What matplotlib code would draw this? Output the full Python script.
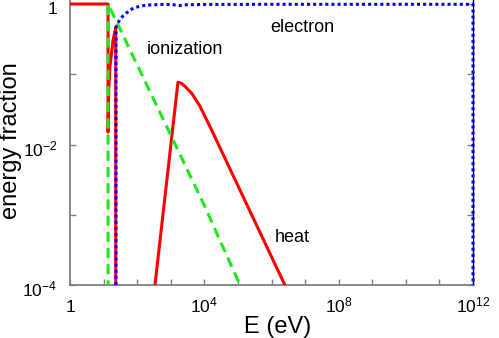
import matplotlib
matplotlib.use("Agg")
import numpy as np
import matplotlib.pyplot as plt
from matplotlib.ticker import FixedLocator, NullFormatter
from matplotlib.transforms import ScaledTranslation

plt.rcParams['font.family'] = ['Liberation Sans', 'DejaVu Sans']
plt.rcParams['mathtext.fontset'] = 'custom'
plt.rcParams['mathtext.rm'] = 'Liberation Sans'
plt.rcParams['mathtext.it'] = 'Liberation Sans:italic'
plt.rcParams['mathtext.bf'] = 'Liberation Sans:bold'

# ---- data ----
heat_E = [1, 13.6, 13.6, 14.2, 15.5, 19.0, 23.0, 23.0, None,
          339, 1637, 2100, 2650, 4280, 7400, 14700, 2.5e6]
heat_f = [1.0, 1.0, 0.015, 0.06, 0.13, 0.30, 0.47, 1e-7, None,
          1e-4, 0.077, 0.074, 0.0674, 0.053, 0.035, 0.018, 1e-4]

ion_E = [13.6, 13.6, 1e2, 1e3, 1e4, 1.15e5, 1e6]
ion_f = [1e-7, 1.0, 0.136, 0.0136, 0.00136, 1e-4, 1.36e-5]

elec_E = [23.4, 23.4, 30.8, 43, 70, 121, 240, 550, 1100, 1870, 3000, 1e4, 1e6, 1e9, 1e12, 1e12]
elec_f = [1e-4, 0.47, 0.61, 0.72, 0.85, 0.935, 0.97, 0.985, 0.98, 0.95, 0.975, 0.985, 0.99, 0.99, 0.99, 1e-4]

xticks = [1, 1e4, 1e8, 1e12]
xticklabels = ['$1$', '$10^{4}$', '$10^{8}$', '$10^{12}$']
xminor = [1e1, 1e2, 1e3, 1e5, 1e6, 1e7, 1e9, 1e10, 1e11]
yticks = [1e-4, 1e-2, 1]
yticklabels = ['$10^{-4}$', '$10^{-2}$', '$1$']
yminor = [1e-3, 1e-1]

fig = plt.figure(figsize=(4.99, 3.38), dpi=100)
ax = fig.add_axes([70/499, (338-285)/338, 403/499, 285/338])

def seg(xs, ys):
    return ([np.nan if v is None else v for v in xs], [np.nan if v is None else v for v in ys])

hx, hy = seg(heat_E, heat_f)
ax.plot(hx, hy, color='#ff0000', lw=2.2, zorder=3)
ax.plot(ion_E, ion_f, color='#1ee81e', lw=2.2, dashes=(3.3, 2.0), zorder=4)
ax.plot(elec_E, elec_f, color='#0000ff', lw=2.2, linestyle=(0, (1, 1)), zorder=5, clip_on=False)

ax.set_xscale('log')
ax.set_yscale('log')
ax.set_xlim(1, 1e12)
ax.set_ylim(1e-4, 10**(4/70.25))

ax.set_xticks(xticks, labels=xticklabels)
ax.set_yticks(yticks, labels=yticklabels)
ax.xaxis.set_minor_locator(FixedLocator(xminor))
ax.yaxis.set_minor_locator(FixedLocator(yminor))
ax.xaxis.set_minor_formatter(NullFormatter())
ax.yaxis.set_minor_formatter(NullFormatter())

ax.tick_params(which='both', direction='in', length=4, width=1, color='#808080',
               right=True, top=False, labelsize=12.5)
ax.tick_params(axis='x', which='major', pad=19.4)
ax.tick_params(axis='y', which='major', pad=9)
for lab in ax.get_xticklabels():
    lab.set_va('baseline')
shift = ScaledTranslation(0, -3/100, fig.dpi_scale_trans)
for tick in ax.yaxis.get_major_ticks():
    tick.label1.set_transform(tick.label1.get_transform() + shift)

for s in ['left', 'bottom']:
    ax.spines[s].set_color('#808080')
    ax.spines[s].set_linewidth(1.3)
ax.spines['top'].set_visible(False)
ax.spines['right'].set_color('black')
ax.spines['right'].set_linewidth(1.0)

ax.set_xlabel('E (eV)', fontsize=17, va='top')
ax.xaxis.set_label_coords(0.516, -0.109)
ax.set_ylabel('energy fraction', fontsize=17, va='bottom')
ax.yaxis.set_label_coords(-0.12, 0.505)

ax.text(0.284, 0.825, 'ionization', transform=ax.transAxes, fontsize=13, ha='center', va='center')
ax.text(0.577, 0.905, 'electron', transform=ax.transAxes, fontsize=13, ha='center', va='center')
ax.text(0.551, 0.168, 'heat', transform=ax.transAxes, fontsize=13, ha='center', va='center')

fig.savefig('out.png', dpi=100)
